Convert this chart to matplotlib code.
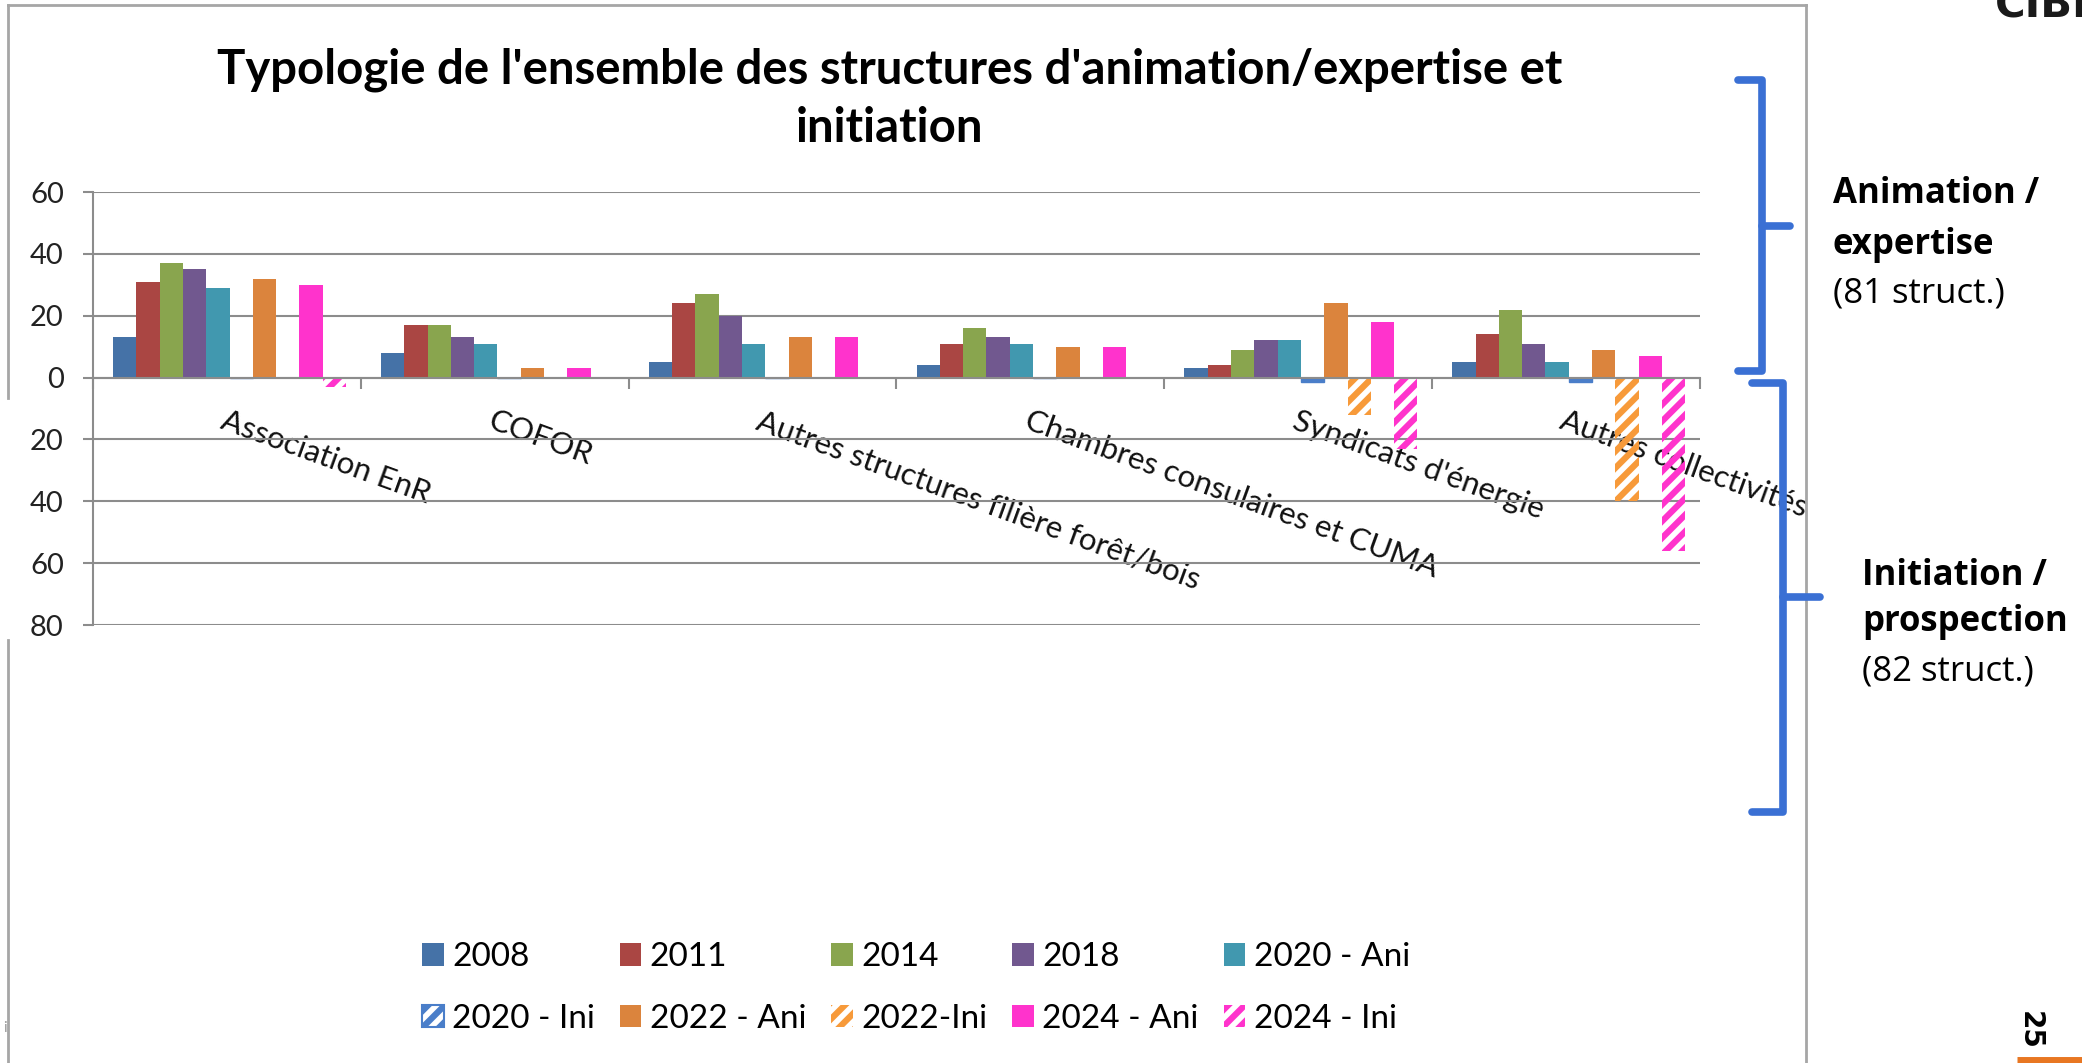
import numpy as np
import matplotlib.pyplot as plt
from matplotlib.patches import Patch

categories = ["Association EnR", "COFOR", "Autres structures filière forêt/bois",
              "Chambres consulaires et CUMA", "Syndicats d'énergie", "Autres collectivités"]
series_names = ["2008", "2011", "2014", "2018", "2020 - Ani",
                "2020 - Ini", "2022 - Ani", "2022-Ini", "2024 - Ani", "2024 - Ini"]

v2008 = [13, 8, 5, 4, 3, 5]
v2011 = [31, 17, 24, 11, 4, 14]
v2014 = [37, 17, 27, 16, 9, 22]
v2018 = [35, 13, 20, 13, 12, 11]
v2020_ani = [29, 11, 11, 11, 12, 5]
v2020_ini = [0, 0, 0, 0, -1.5, -1.5]
v2022_ani = [32, 3, 13, 10, 24, 9]
v2022_ini = [0, 0, 0, 0, -12, -40]
v2024_ani = [30, 3, 13, 10, 18, 7]
v2024_ini = [-3, 0, 0, 0, -23, -56]

yticks = [60, 40, 20, 0, -20, -40, -60, -80]
ytick_labels = ["60", "40", "20", "0", "20", "40", "60", "80"]

title = "Typologie de l'ensemble des structures d'animation/expertise et\ninitiation"

values = [v2008, v2011, v2014, v2018, v2020_ani,
          v2020_ini, v2022_ani, v2022_ini, v2024_ani, v2024_ini]
colors = ['#4572A7', '#AA4643', '#89A54E', '#71588F', '#4198AF',
          '#4A7EC9', '#DB843D', '#F79A3A', '#FF33CC', '#FF33CC']
hatched = [False, False, False, False, False, True, False, True, False, True]

plt.rcParams['font.family'] = ['Lato', 'DejaVu Sans']
plt.rcParams['hatch.linewidth'] = 4.5

grey = '#8C8C8C'

fig = plt.figure(figsize=(20.82, 10.63), dpi=100)
ax = fig.add_axes([93 / 2082, 1 - 625 / 1063, (1700 - 93) / 2082, (625 - 192) / 1063])

x = np.arange(len(categories))
w = 0.087
for i, (vals, col, hat) in enumerate(zip(values, colors, hatched)):
    pos = x + (i - 4.5) * w + 0.01
    if hat:
        if i == 5:
            ax.bar(pos, vals, w, facecolor=col, edgecolor=col, linewidth=1, zorder=2)
        else:
            ax.bar(pos, vals, w, facecolor='none', edgecolor=col, linewidth=0,
                   hatch='//', zorder=2)
    else:
        ax.bar(pos, vals, w, color=col, zorder=2)

ax.set_axisbelow(True)
ax.set_ylim(-80, 60)
ax.set_yticks(yticks)
ax.set_yticklabels(ytick_labels)
ax.yaxis.grid(True, color=grey, lw=1.5)
ax.tick_params(axis='y', direction='out', length=7, width=1.5, color=grey,
               labelsize=21, pad=14, labelcolor='#222222')

ax.set_xlim(-0.5, 5.5)
ax.spines['bottom'].set_position(('data', 0))
ax.spines['top'].set_visible(False)
ax.spines['right'].set_visible(False)
for s in ['bottom', 'left']:
    ax.spines[s].set_color(grey)
    ax.spines[s].set_linewidth(1.5)
ax.set_xticks(np.arange(-0.5, 6, 1))
ax.set_xticklabels([])
ax.tick_params(axis='x', which='major', direction='out', length=8, width=1.5, color=grey)
ax.set_xticks(x, minor=True)
ax.set_xticklabels(categories, minor=True, rotation=-20, ha='left',
                   rotation_mode='anchor', fontsize=22.5, color='#111111')
ax.tick_params(axis='x', which='minor', length=0, pad=21)

fig.text(890 / 2082, 1 - 99 / 1063, title, ha='center', va='center',
         fontsize=34, fontweight='bold', linespacing=1.4)

handles = []
for i, col in enumerate(colors):
    if i == 5:
        handles.append(Patch(facecolor='white', edgecolor=col, hatch='//', linewidth=1.5))
    elif hatched[i]:
        handles.append(Patch(facecolor='none', edgecolor=col, hatch='//', linewidth=0))
    else:
        handles.append(Patch(facecolor=col))
order = [0, 5, 1, 6, 2, 7, 3, 8, 4, 9]
fig.legend([handles[i] for i in order], [series_names[i] for i in order],
           ncol=5, loc='center', bbox_to_anchor=(916 / 2082, 1 - 988 / 1063),
           frameon=False, fontsize=24, handlelength=0.65, handleheight=0.65,
           handletextpad=0.25, columnspacing=0.75, labelspacing=0.95)

# overlay in pixel coordinates for frame, braces and side notes
ov = fig.add_axes([0, 0, 1, 1], zorder=5)
ov.set_xlim(0, 2082)
ov.set_ylim(1063, 0)
ov.axis('off')

fc = '#A6A6A6'
ov.plot([8, 1806], [5, 5], color=fc, lw=2)
ov.plot([8, 8], [5, 398], color=fc, lw=2)
ov.plot([8, 8], [640, 1063], color=fc, lw=2)
ov.plot([1806, 1806], [5, 1063], color=fc, lw=2)

bc = '#3A70D4'
ov.plot([1738, 1762, 1762, 1738], [80, 80, 371, 371], color=bc, lw=5.5,
        solid_joinstyle='round', solid_capstyle='round')
ov.plot([1762, 1790], [226, 226], color=bc, lw=5.5, solid_capstyle='round')
ov.plot([1752, 1783, 1783, 1752], [383, 383, 812, 812], color=bc, lw=5.5,
        solid_joinstyle='round', solid_capstyle='round')
ov.plot([1783, 1820], [597, 597], color=bc, lw=5.5, solid_capstyle='round')

side_font = ['Open Sans', 'DejaVu Sans']
ov.text(1833, 194, "Animation /", fontsize=25, fontweight='bold', family=side_font, va='center')
ov.text(1833, 245, "expertise", fontsize=25, fontweight='bold', family=side_font, va='center')
ov.text(1833, 294, "(81 struct.)", fontsize=25, family=side_font, va='center')
ov.text(1862, 576, "Initiation /", fontsize=25, fontweight='bold', family=side_font, va='center')
ov.text(1862, 622, "prospection", fontsize=25, fontweight='bold', family=side_font, va='center')
ov.text(1862, 672, "(82 struct.)", fontsize=25, family=side_font, va='center')

ov.text(1995, 18, "CIBE", fontsize=30, fontweight='bold', color='#1a1a1a',
        family=['DejaVu Sans'], va='baseline', ha='left')
ov.text(2030, 1030, "25", fontsize=20, fontweight='bold', rotation=-90,
        ha='center', va='center', family=['DejaVu Sans'])
ov.plot([2017, 2082], [1060, 1060], color='#E87722', lw=5, solid_capstyle='butt')
ov.text(3, 1028, "i", fontsize=11, color='#999999', va='center')

fig.savefig('out.png', dpi=100)
